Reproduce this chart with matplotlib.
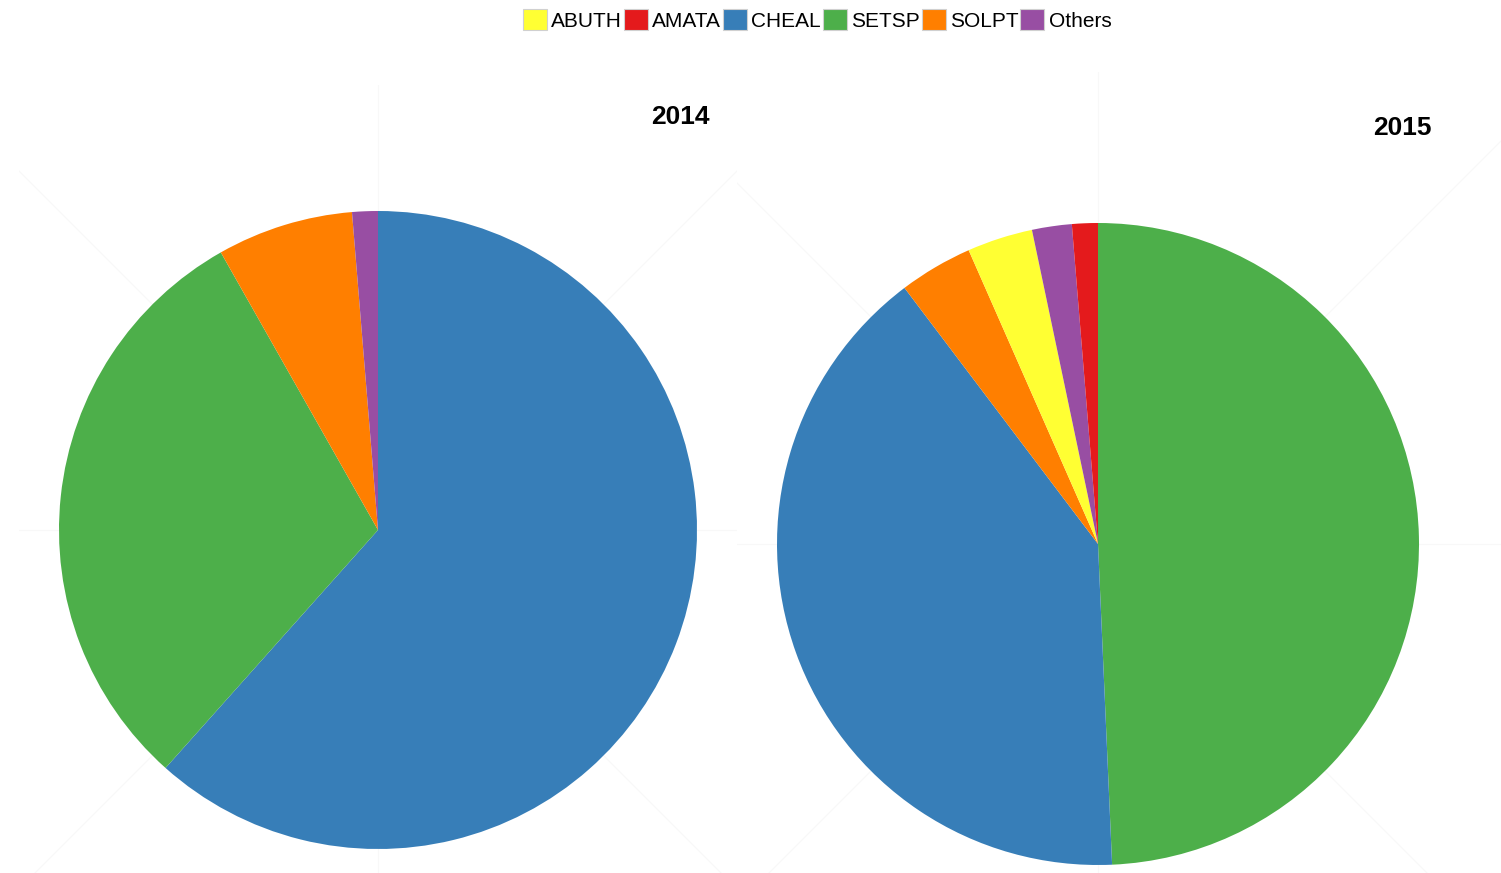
import matplotlib.pyplot as plt
from matplotlib.patches import Patch, Rectangle
import numpy as np

# Parts de chaque espèce (%), dans l'ordre horaire depuis le haut
species = ['ABUTH', 'AMATA', 'CHEAL', 'SETSP', 'SOLPT', 'Others']
order_2014 = ['CHEAL', 'SETSP', 'SOLPT', 'Others']
share_2014 = [61.6, 30.2, 6.9, 1.3]
order_2015 = ['SETSP', 'CHEAL', 'SOLPT', 'ABUTH', 'Others', 'AMATA']
share_2015 = [49.3, 40.4, 3.7, 3.3, 2.0, 1.3]

colors = {'ABUTH': '#FFFF33', 'AMATA': '#E41A1C', 'CHEAL': '#377EB8',
          'SETSP': '#4DAF4A', 'SOLPT': '#FF7F00', 'Others': '#984EA3'}

W, H = 1501, 873
fig = plt.figure(figsize=(W / 100, H / 100), dpi=100)
ax = fig.add_axes([0, 0, 1, 1])

# panneaux : centre (px), rayon, bornes du panneau, titre
panels = [
    dict(year='2014', order=order_2014, vals=share_2014, cx=378, cy=530, r=319,
         box=(19, 85, 737, 1000), title_xy=(680, 117)),
    dict(year='2015', order=order_2015, vals=share_2015, cx=1098, cy=544, r=321,
         box=(737, 72, 1501, 1000), title_xy=(1402, 128)),
]

for p in panels:
    cx, cy = p['cx'], H - p['cy']
    x0, y0, x1, y1 = p['box']
    clip = Rectangle((x0, H - y1), x1 - x0, y1 - y0, transform=ax.transData,
                     fill=False, lw=0)
    # lignes radiales très pâles du fond
    for a in np.arange(0, 360, 45):
        t = np.deg2rad(a)
        ln, = ax.plot([cx, cx + 900 * np.sin(t)], [cy, cy + 900 * np.cos(t)],
                      color='#f8f8f8', lw=0.9, zorder=0)
        ln.set_clip_path(clip)
    ax.pie(p['vals'], colors=[colors[s] for s in p['order']], startangle=90,
           counterclock=False, center=(cx, cy), radius=p['r'],
           wedgeprops=dict(linewidth=0, antialiased=True), normalize=True)
    tx, ty = p['title_xy']
    ax.text(tx, H - ty, p['year'], ha='center', va='center', fontsize=19,
            fontweight='bold', family='Liberation Sans')

ax.set_xlim(0, W)
ax.set_ylim(0, H)
ax.set_aspect('equal')
ax.axis('off')

handles = [Patch(facecolor=colors[s], edgecolor='#d0d0d0', linewidth=0.8, label=s)
           for s in species]
fig.legend(handles=handles, loc='center', bbox_to_anchor=(817 / W, 1 - 20 / H),
           ncol=6, frameon=False, handlelength=1.15, handleheight=1.15,
           handletextpad=0.2, columnspacing=0.1, borderpad=0,
           prop=dict(family='Liberation Sans', size=15))

fig.savefig('out.png', dpi=100, facecolor='white')
